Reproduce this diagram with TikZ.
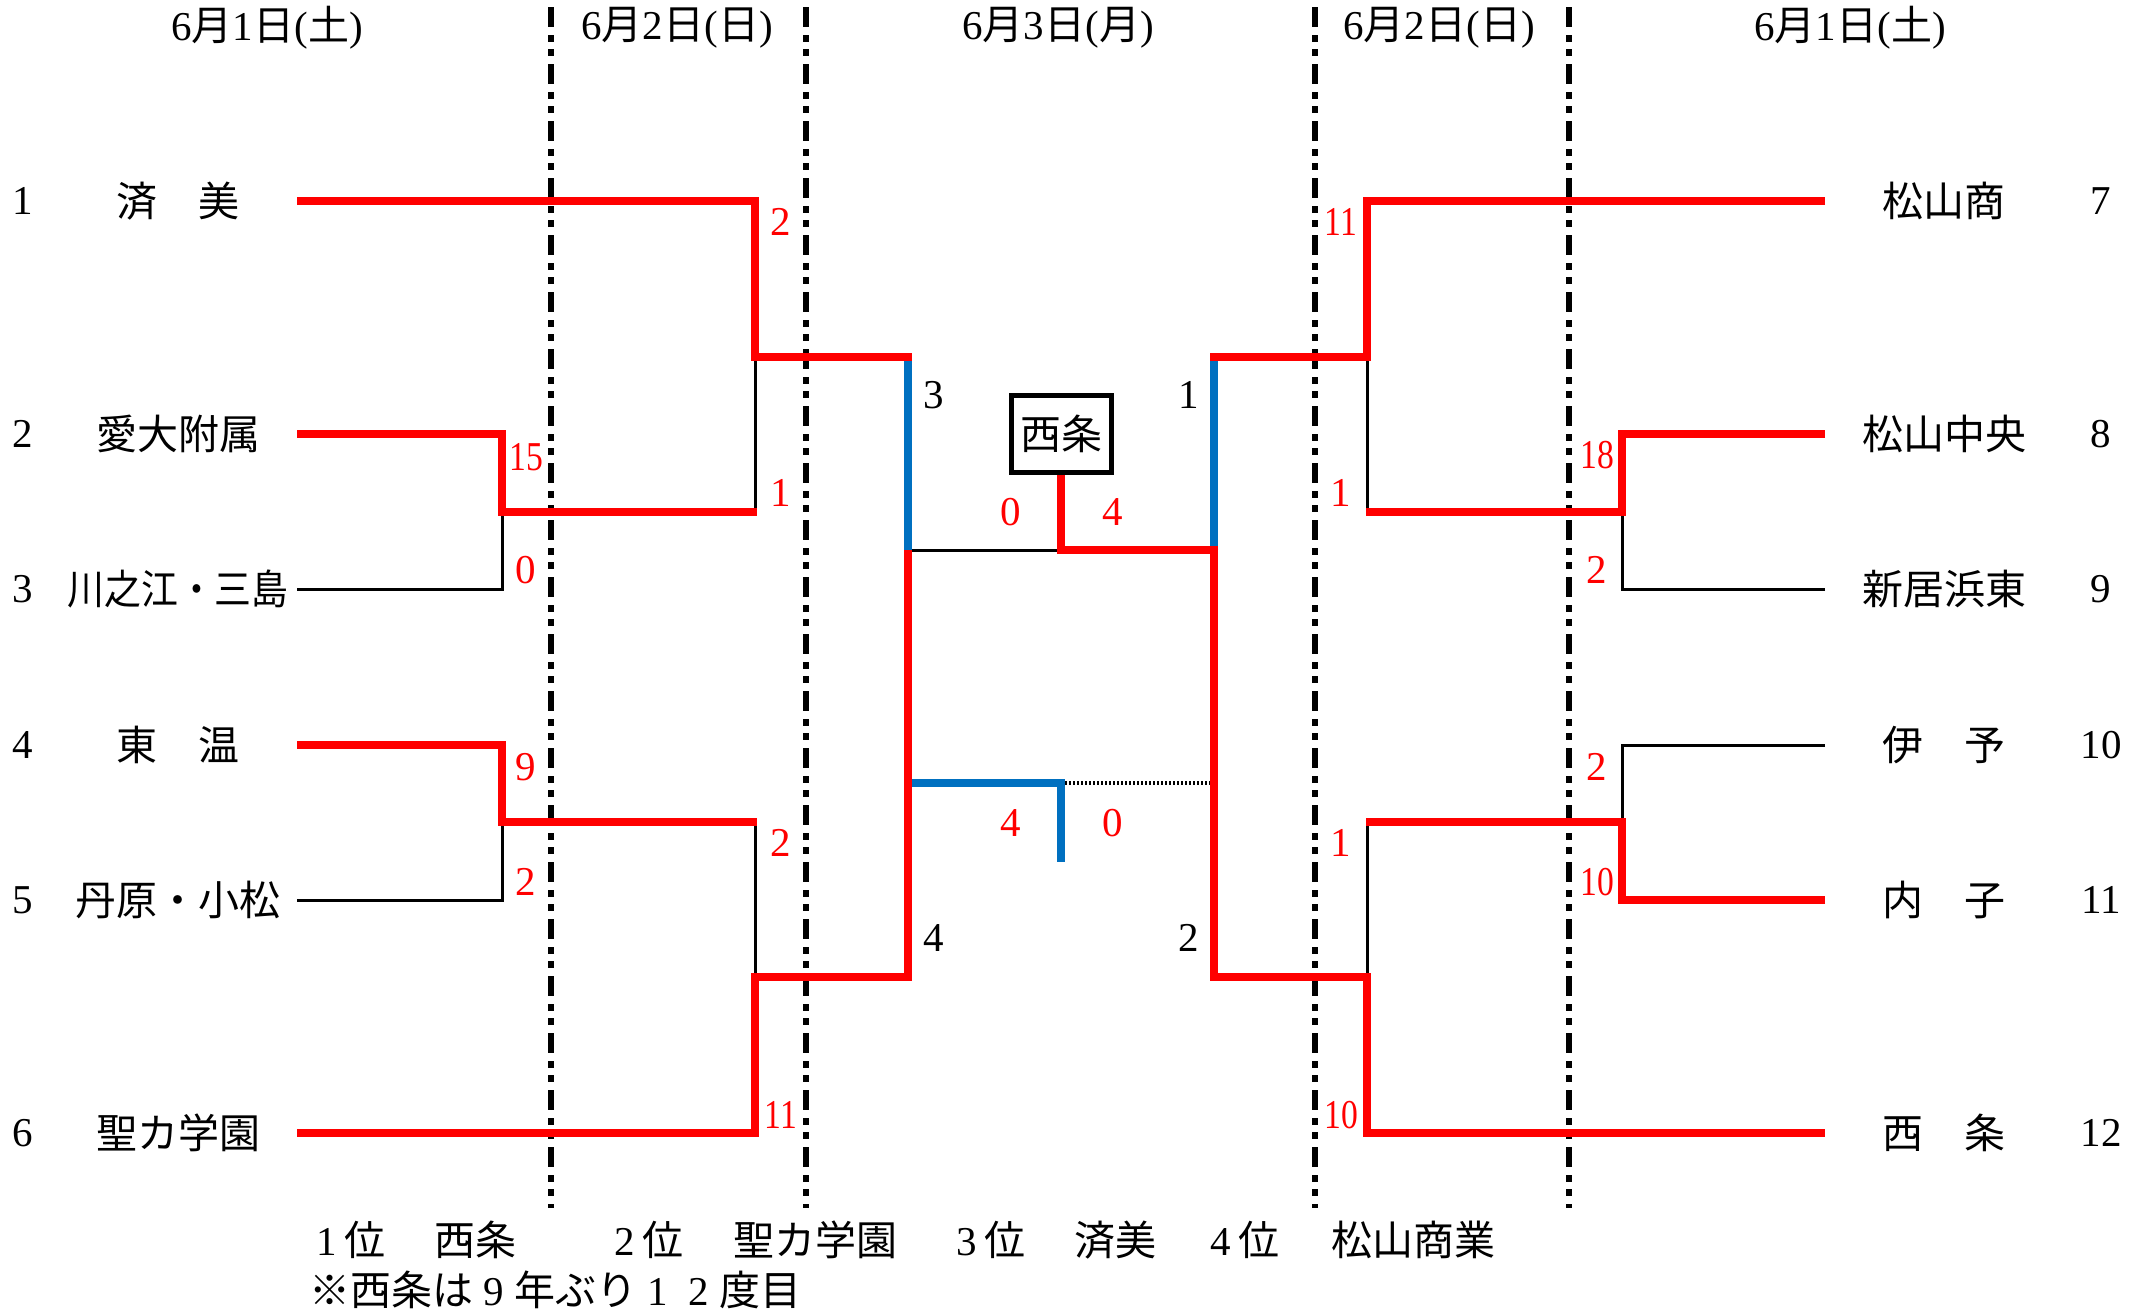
\documentclass[tikz,border=0pt]{standalone}
\usepackage{fontspec}
\setmainfont{Noto Sans CJK JP}
\newfontfamily\dgf{Liberation Serif}
\newcommand\dg[1]{{\dgf #1}}
\newcommand\fw[1]{\makebox[1em]{\dgf #1}}
\newcommand\nn[1]{\scalebox{0.82}[1]{#1}}
\definecolor{bluec}{RGB}{0,112,192}
\begin{document}
\begin{tikzpicture}[x=0.5pt,y=-0.5pt,
  win/.style={draw=red,line width=4pt,line join=miter},
  lose/.style={draw=black,line width=1.5pt},
  semi/.style={draw=bluec,line width=4pt,line join=miter},
  sep/.style={draw=black,line width=3pt,dash pattern=on 10pt off 4pt on 3.5pt off 3.5pt on 3.5pt off 4pt},
  dots/.style={draw=black,line width=1.6pt,dash pattern=on 1.1pt off 0.9pt},
  jp/.style={font=\fontsize{20.5pt}{24pt}\selectfont,inner sep=0pt},
  num/.style={font=\fontsize{20.5pt}{24pt}\selectfont\dgf,inner sep=0pt},
  score/.style={num,text=red},
  winbox/.style={jp,draw=black,line width=2.5pt,minimum width=50pt,minimum height=38.5pt}]
\useasboundingbox (0,0) rectangle (2151,1314);

% separators
\foreach \x/\n in {551/1,806/2,1315/3,1569/4}{
  \coordinate (d\n t) at (\x,7); \coordinate (d\n b) at (\x,1208);
  \draw[sep] (d\n t) -- (d\n b);
}

% coordinates
\coordinate (s1) at (297,201);  \coordinate (s2) at (297,434);
\coordinate (s3) at (297,589);  \coordinate (s4) at (297,745);
\coordinate (s5) at (297,900);  \coordinate (s6) at (297,1133);
\coordinate (e7) at (1825,201); \coordinate (e8) at (1825,434);
\coordinate (e9) at (1825,589); \coordinate (e10) at (1825,745);
\coordinate (e11) at (1825,900);\coordinate (e12) at (1825,1133);
\coordinate (r1a) at (502,512); \coordinate (r1b) at (502,822);
\coordinate (r1c) at (1622,512);\coordinate (r1d) at (1622,822);
\coordinate (r2a) at (755,357); \coordinate (r2b) at (755,977);
\coordinate (r2c) at (1367,357);\coordinate (r2d) at (1367,977);
\coordinate (sfa) at (908,550); \coordinate (sfb) at (1214,550);
\coordinate (fin) at (1061,550);
\coordinate (sfa3) at (908,783); \coordinate (sfb3) at (1214,783);
\coordinate (third) at (1061,783); \coordinate (thirdend) at (1061,862);

% losing lines
\draw[lose] (s3) -| (r1a);
\draw[lose] (s5) -| (r1b);
\draw[lose] (r2a) -- (r2a |- r1a);
\draw[lose] (r2b |- r1b) -- (r2b);
\draw[lose] (e9) -| (r1c);
\draw[lose] (e10) -| (r1d);
\draw[lose] (r2c) -- (r2c |- r1c);
\draw[lose] (r2d |- r1d) -- (r2d);
\draw[lose] (sfa) -- (fin);
\draw[dots] (third) -- (sfb3);
\draw[semi] (r2a -| sfa) -- (sfa);
\draw[semi] (r2c -| sfb) -- (sfb);
\draw[semi] (sfa3) -| (thirdend);

% champion box
\node[winbox] (champ) at (1061,434) {西条};

% winning lines
\draw[win] (s1) -| (r2a) -- (r2a -| sfa) -- ++(4,0);
\draw[win] (s2) -| (r1a) -- (r2a |- r1a) -- ++(1.5,0);
\draw[win] (s4) -| (r1b) -- (r2b |- r1b) -- ++(1.5,0);
\draw[win] (s6) -| (r2b) -- (sfa |- r2b) -- (sfa);
\draw[win] (e7) -| (r2c) -- (r2c -| sfb) -- ++(-4,0);
\draw[win] (e8) -| (r1c) -- (r2c |- r1c) -- ++(-1.5,0);
\draw[win] (e11) -| (r1d) -- (r2d |- r1d) -- ++(-1.5,0);
\draw[win] (champ.south) -- (fin) -- (sfb) -- (sfb |- r2d) -- (r2d) |- (e12);

% headers
\node[jp] (h1) at (267,28) {\dg{6}月\dg{1}日\dg{(}土\dg{)}};
\node[jp] (h2) at (677,28) {\dg{6}月\dg{2}日\dg{(}日\dg{)}};
\node[jp] (h3) at (1058,28) {\dg{6}月\dg{3}日\dg{(}月\dg{)}};
\node[jp] (h4) at (1439,28) {\dg{6}月\dg{2}日\dg{(}日\dg{)}};
\node[jp] (h5) at (1850,28) {\dg{6}月\dg{1}日\dg{(}土\dg{)}};

% team numbers
\foreach \n/\y in {1/201,2/434,3/589,4/745,5/900,6/1133}
  \node[num] (n\n) at (23,\y) {\n};
\foreach \n/\y in {7/201,8/434,9/589,10/745,11/900,12/1133}
  \node[num] (n\n) at (2101,\y) {\n};

% team names
\node[jp] (t1) at (178,201) {済　美};
\node[jp] (t2) at (178,434) {愛大附属};
\node[jp] (t3) at (178,589) {\scalebox{0.9}[1]{川之江・三島}};
\node[jp] (t4) at (178,745) {東　温};
\node[jp] (t5) at (178,900) {丹原・小松};
\node[jp] (t6) at (178,1133) {聖カ学園};
\node[jp] (t7) at (1944,201) {松山商};
\node[jp] (t8) at (1944,434) {松山中央};
\node[jp] (t9) at (1944,589) {新居浜東};
\node[jp] (t10) at (1944,745) {伊　予};
\node[jp] (t11) at (1944,900) {内　子};
\node[jp] (t12) at (1944,1133) {西　条};

% scores
\node[score] (c1) at (526,457) {\nn{15}};
\node[score] (c2) at (526,570) {0};
\node[score] (c3) at (526,767) {9};
\node[score] (c4) at (526,882) {2};
\node[score] (c5) at (781,222) {2};
\node[score] (c6) at (781,493) {1};
\node[score] (c7) at (781,843) {2};
\node[score] (c8) at (781,1115) {\nn{11}};
\node[score] (c9) at (1341,222) {\nn{11}};
\node[score] (c10) at (1341,493) {1};
\node[score] (c11) at (1341,843) {1};
\node[score] (c12) at (1341,1115) {\nn{10}};
\node[score] (c13) at (1597,455) {\nn{18}};
\node[score] (c14) at (1597,570) {2};
\node[score] (c15) at (1597,767) {2};
\node[score] (c16) at (1597,882) {\nn{10}};
\node[score] (c17) at (1011,512) {0};
\node[score] (c18) at (1113,512) {4};
\node[score] (c19) at (1011,823) {4};
\node[score] (c20) at (1113,823) {0};

% semifinal labels
\node[num] (g1) at (934,395) {3};
\node[num] (g2) at (934,938) {4};
\node[num] (g3) at (1189,395) {1};
\node[num] (g4) at (1189,938) {2};

% footer
\node[jp] (p1) at (351,1240) {\dg{1}\,位};
\node[jp] (q1) at (475,1240) {西条};
\node[jp] (p2) at (649,1240) {\dg{2}\,位};
\node[jp] (q2) at (815,1240) {聖カ学園};
\node[jp] (p3) at (991,1240) {\dg{3}\,位};
\node[jp] (q3) at (1115,1240) {済美};
\node[jp] (p4) at (1245,1240) {\dg{4}\,位};
\node[jp] (q4) at (1413,1240) {松山商業};
\node[jp,anchor=west] (note) at (309,1290) {※西条は\fw{9}年ぶり\fw{1}\fw{2}度目};
\end{tikzpicture}
\end{document}
